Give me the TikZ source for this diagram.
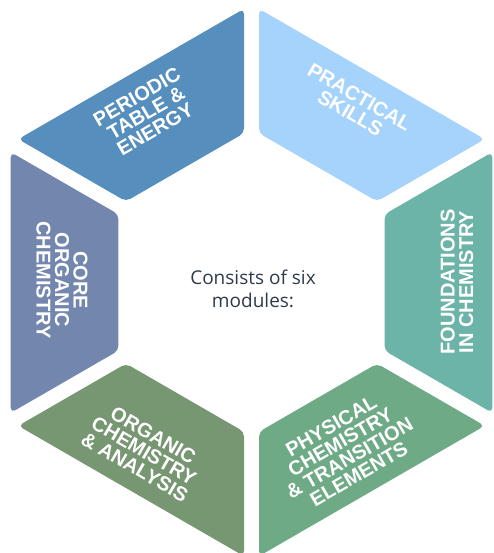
\documentclass[tikz,border=0pt]{standalone}
\usepackage{fontspec}
\setmainfont{Liberation Sans}
\newfontfamily\centerfont{Open Sans}
\usetikzlibrary{calc}
\definecolor{cPer}{HTML}{568EBD}
\definecolor{cPrac}{HTML}{A6D3FB}
\definecolor{cFound}{HTML}{6CB4A7}
\definecolor{cPhys}{HTML}{6FAA86}
\definecolor{cOrg}{HTML}{779672}
\definecolor{cCore}{HTML}{7386AE}
\definecolor{cText}{HTML}{2E3B4B}
\newcommand\hexseg[3]{%
  \fill[seg,#3] ($(O#1)!8.66pt!(O#2)$) -- ($(O#2)!8.66pt!(O#1)$) --
    ($(I#2)!8.66pt!(I#1)$) -- ($(I#1)!8.66pt!(I#2)$) -- cycle;}
\begin{document}
\begin{tikzpicture}[x=1pt,y=1pt,
  seg/.style={rounded corners=5pt},
  lbl/.style={text=white, align=center, inner sep=0pt,
    font=\bfseries\fontsize{20}{18.5}\selectfont},
  ctext/.style={text=cText, align=center, inner sep=0pt,
    font=\centerfont\fontsize{19}{23}\selectfont}]
\useasboundingbox (0,0) rectangle (493,553);
\clip (0,0) rectangle (493,553);
\coordinate (C) at (251.5,270.5);
\foreach \a in {30,90,...,330} {
  \coordinate (O\a) at ($(C)+(\a:278)$);
  \coordinate (I\a) at ($(C)+(\a:153.6)$);
}
\hexseg{90}{150}{cPer}
\hexseg{150}{210}{cCore}
\hexseg{210}{270}{cOrg}
\hexseg{270}{330}{cPhys}
\hexseg{330}{30}{cFound}
\hexseg{30}{90}{cPrac}
\node[lbl, rotate=30] (per) at (146,440) {PERIODIC\\TABLE \&\\ENERGY};
\node[lbl, rotate=-30] (prac) at (355,448) {PRACTICAL\\SKILLS};
\node[lbl, rotate=90] (found) at (457,271) {FOUNDATIONS\\IN CHEMISTRY};
\node[lbl, rotate=-90] (core) at (62,273) {CORE\\ORGANIC\\CHEMISTRY};
\node[lbl, rotate=-30] (org) at (144,102) {ORGANIC\\CHEMISTRY\\\& ANALYSIS};
\node[lbl, rotate=30] (phys) at (345,103) {PHYSICAL\\CHEMISTRY\\\& TRANSITION\\ELEMENTS};
\node[ctext] (mid) at (253,264) {Consists of six\\modules:};
\end{tikzpicture}
\end{document}
